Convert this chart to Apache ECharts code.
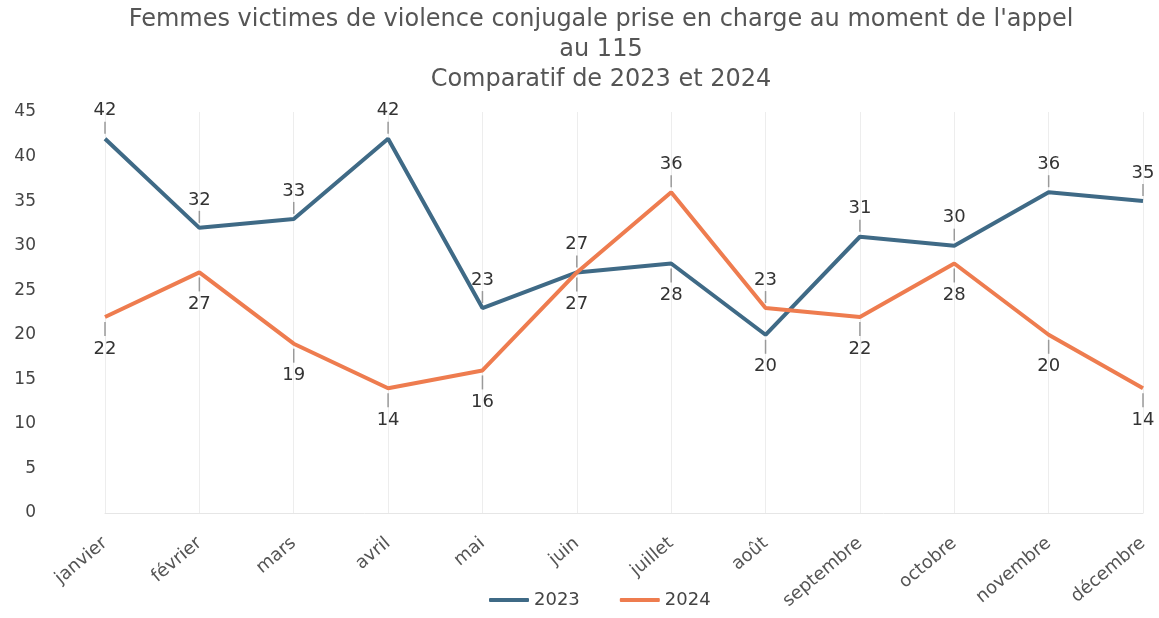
<!DOCTYPE html>
<html><head><meta charset="utf-8">
<script src="https://cdn.jsdelivr.net/npm/echarts@6/dist/echarts.min.js"></script>
<style>html,body{margin:0;padding:0;background:#fff}#c{width:1159px;height:618px}</style>
</head><body><div id="c"></div>
<script>
const months = ['janvier','février','mars','avril','mai','juin','juillet','août','septembre','octobre','novembre','décembre'];
const v2023 = [42,32,33,42,23,27,28,20,31,30,36,35];
const v2024 = [22,27,19,14,16,27,36,23,22,28,20,14];
const pos2023 = ['top','top','top','top','top','top','bottom','bottom','top','top','top','top'];
const pos2024 = ['bottom','bottom','bottom','bottom','bottom','bottom','top','top','bottom','bottom','bottom','bottom'];
const yTicks = [0,5,10,15,20,25,30,35,40,45];

const rich = {
  v:{fontFamily:'DejaVu Sans', fontSize:18, color:'#333', lineHeight:22, align:'center'},
  vb:{fontFamily:'DejaVu Sans', fontSize:18, color:'#333', lineHeight:26, align:'center'},
  l:{width:1.5, height:12, backgroundColor:'#9a9a9a', align:'center'},
  lb:{width:1.5, height:14, backgroundColor:'#9a9a9a', align:'center'}
};
function mk(vals, poss) {
  return vals.map((v,i)=>({value:v, label:{
    position:poss[i], distance:5,
    formatter: poss[i]==='top' ? '{v|'+v+'}\n{l|}' : '{lb|}\n{vb|'+v+'}'
  }}));
}
const chart = echarts.init(document.getElementById('c'));
chart.setOption({
  animation:false,
  title:{
    text:'Femmes victimes de violence conjugale prise en charge au moment de l\'appel\nau 115\nComparatif de 2023 et 2024',
    left:596, textAlign:'center', top:0,
    textStyle:{fontFamily:'DejaVu Sans', fontSize:24, fontWeight:'normal', color:'#555', lineHeight:30}
  },
  legend:{
    bottom:4, left:484, itemWidth:40, itemHeight:4, icon:'roundRect', itemGap:40,
    textStyle:{fontFamily:'DejaVu Sans', fontSize:18, color:'#444'},
    data:['2023','2024']
  },
  grid:{left:105, right:16, top:112, bottom:105},
  xAxis:{
    type:'category', data:months, boundaryGap:false,
    axisLine:{lineStyle:{color:'#e6e6e6'}}, axisTick:{show:false},
    splitLine:{show:true, lineStyle:{color:'#ededed'}},
    axisLabel:{rotate:40, fontFamily:'DejaVu Sans', fontSize:18, color:'#555', margin:28}
  },
  yAxis:{
    type:'value', min:0, max:45, interval:5,
    axisLine:{show:false}, axisTick:{show:false}, splitLine:{show:false},
    axisLabel:{margin:69, fontFamily:'DejaVu Sans', fontSize:17, color:'#444',
      formatter:(v)=> yTicks.includes(v)? String(v):''}
  },
  series:[
    {name:'2023', type:'line', data:mk(v2023,pos2023), symbol:'circle', symbolSize:0, showSymbol:true,
     lineStyle:{width:4, color:'#3f6a86'}, itemStyle:{color:'#3f6a86'},
     label:{show:true, rich:rich}},
    {name:'2024', type:'line', data:mk(v2024,pos2024), symbol:'circle', symbolSize:0, showSymbol:true,
     lineStyle:{width:4, color:'#ee7c4f'}, itemStyle:{color:'#ee7c4f'},
     label:{show:true, rich:rich}}
  ]
});
</script></body></html>
